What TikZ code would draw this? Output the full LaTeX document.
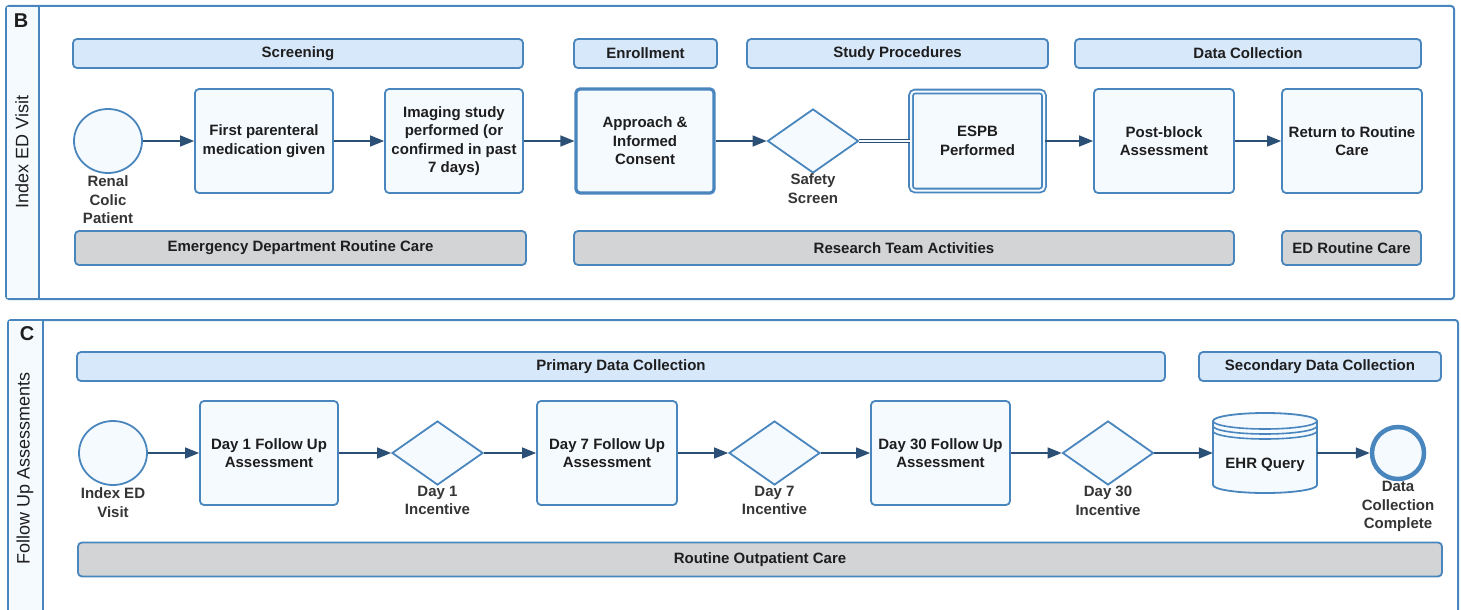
\documentclass[tikz,border=0pt]{standalone}
\usepackage{fontspec}
\setmainfont{Liberation Sans}
\usetikzlibrary{arrows.meta,positioning,shapes.geometric}

\definecolor{laneblue}{HTML}{4A86BE}
\definecolor{flowblue}{HTML}{2C4F75}
\definecolor{boxfill}{HTML}{F5FAFF}
\definecolor{headfill}{HTML}{D7E8FB}
\definecolor{barfill}{HTML}{D3D4D6}
\definecolor{ink}{HTML}{1E1E1E}

\begin{document}
\begin{tikzpicture}[x=1pt,y=-1pt,
    font=\fontsize{15}{18.5}\selectfont\bfseries,
    lane/.style={draw=laneblue,line width=2pt,rounded corners=3pt},
    head/.style={draw=laneblue,line width=1.8pt,fill=headfill,rounded corners=4pt,minimum height=29pt,inner sep=0pt,text=ink},
    bar/.style={draw=laneblue,line width=1.8pt,fill=barfill,rounded corners=4pt,minimum height=34pt,inner sep=0pt,text=ink},
    task/.style={draw=laneblue,line width=1.8pt,fill=boxfill,rounded corners=4pt,minimum height=104pt,align=center,text=ink,inner sep=1pt},
    event/.style={ellipse,draw=laneblue,line width=1.8pt,fill=boxfill,minimum width=68pt,minimum height=64pt,inner sep=0pt},
    gate/.style={diamond,draw=laneblue,line width=1.8pt,fill=boxfill,minimum width=91pt,minimum height=64pt,inner sep=0pt},
    tag/.style={align=center,inner sep=0pt,text=ink!90},
    lanetitle/.style={rotate=90,font=\fontsize{18}{20}\selectfont,text=ink},
    flow/.style={draw=flowblue,line width=1.5pt,-{Triangle[length=14pt,width=11pt]}}]
  \useasboundingbox (0,0) rectangle (1461,610);
  \clip (0,0) rectangle (1461,610);

  % panel B: index ED visit
  \draw[lane,fill=white] (6,6) rectangle (1454,299);
  \fill[boxfill] (7,7) rectangle (39,298);
  \draw[laneblue,line width=2pt] (39,6) -- (39,299);
  \node[font=\fontsize{20}{22}\selectfont\bfseries,text=ink] (labB) at (21,21) {B};
  \node[lanetitle] (laneB) at (22,152) {Index ED Visit};

  \node[head,minimum width=450pt] (scr) at (298,53.5) {Screening};
  \node[head,minimum width=143pt] (enr) at (645.5,53.5) {Enrollment};
  \node[head,minimum width=301pt] (proc) at (897.5,53.5) {Study Procedures};
  \node[head,minimum width=346pt] (dcol) at (1248,53.5) {Data Collection};

  \node[event] (patient) at (108,141) {};
  \node[tag,below=2pt of patient] (patientlbl) {Renal\\Colic\\Patient};
  \node[task,minimum width=138pt] (first) at (264,141) {First parenteral\\medication given};
  \node[task,minimum width=138pt] (imaging) at (454,141) {Imaging study\\performed (or\\confirmed in past\\7 days)};
  \node[task,minimum width=138pt,line width=3.2pt] (consent) at (645,141) {Approach \&\\Informed\\Consent};
  \node[gate] (safety) at (813,141) {};
  \node[tag,below=0pt of safety] (safetylbl) {Safety\\Screen};
  \node[task,minimum width=133pt,minimum height=99pt,line width=1.8pt,double=boxfill,double distance=2pt] (espb) at (977.5,141) {ESPB\\Performed};
  \node[task,minimum width=140pt] (post) at (1164,141) {Post-block\\Assessment};
  \node[task,minimum width=140pt] (ret) at (1352,141) {Return to Routine\\Care};

  \node[bar,minimum width=451pt] (edcare) at (300.5,248) {Emergency Department Routine Care};
  \node[bar,minimum width=660pt] (research) at (904,248) {Research Team Activities};
  \node[bar,minimum width=139pt] (edrout) at (1351.5,248) {ED Routine Care};

  \draw[flow] (patient) -- (first);
  \draw[flow] (first) -- (imaging);
  \draw[flow] (imaging) -- (consent);
  \draw[flow] (consent) -- (safety);
  \draw[flowblue,line width=1.4pt,double=boxfill,double distance=1.8pt] (safety.east) -- (espb.west);
  \draw[flow] (espb) -- (post);
  \draw[flow] (post) -- (ret);

  % panel C: follow up assessments
  \draw[lane,fill=white] (8,320) rectangle (1458,640);
  \fill[boxfill] (9,321) rectangle (43,639);
  \draw[laneblue,line width=2pt] (43,320) -- (43,640);
  \node[font=\fontsize{20}{22}\selectfont\bfseries,text=ink] (labC) at (27,334) {C};
  \node[lanetitle] (laneC) at (25,468) {Follow Up Assessments};

  \node[head,minimum width=1088pt] (primary) at (621,366.5) {Primary Data Collection};
  \node[head,minimum width=242pt] (secondary) at (1320,366.5) {Secondary Data Collection};

  \node[event] (visit) at (113,453) {};
  \node[tag,below=2pt of visit] (visitlbl) {Index ED\\Visit};
  \node[task,minimum width=138pt] (day1) at (269,453) {Day 1 Follow Up\\Assessment};
  \node[gate] (inc1) at (437.5,453) {};
  \node[tag,below=0pt of inc1] (inc1lbl) {Day 1\\Incentive};
  \node[task,minimum width=140pt] (day7) at (607,453) {Day 7 Follow Up\\Assessment};
  \node[gate] (inc7) at (774.5,453) {};
  \node[tag,below=0pt of inc7] (inc7lbl) {Day 7\\Incentive};
  \node[task,minimum width=139pt] (day30) at (940.5,453) {Day 30 Follow Up\\Assessment};
  \node[gate] (inc30) at (1108,453) {};
  \node[tag,below=0pt of inc30] (inc30lbl) {Day 30\\Incentive};

  \node[minimum width=104pt,minimum height=80pt,inner sep=0pt] (ehr) at (1265,453) {};
  \filldraw[draw=laneblue,fill=boxfill,line width=1.8pt] (1213,421) -- (1213,485)
    arc[start angle=180,end angle=360,x radius=52pt,y radius=8pt] -- (1317,421)
    arc[start angle=0,end angle=180,x radius=52pt,y radius=8pt] -- cycle;
  \foreach \lev in {421,426,431}
    \draw[laneblue,line width=1.6pt] (1213,\lev) arc[start angle=180,end angle=360,x radius=52pt,y radius=8pt];
  \node[text=ink] (ehrlbl) at ([yshift=-12pt]ehr.center) {EHR Query};

  \node[circle,draw=laneblue,line width=4.5pt,fill=boxfill,minimum size=52pt,inner sep=0pt] (done) at (1398,453) {};
  \node[tag,below=0pt of done] (donelbl) {Data\\Collection\\Complete};

  \node[bar,minimum width=1364pt] (outpat) at (760,559.5) {Routine Outpatient Care};

  \draw[flow] (visit) -- (day1);
  \draw[flow] (day1) -- (inc1);
  \draw[flow] (inc1) -- (day7);
  \draw[flow] (day7) -- (inc7);
  \draw[flow] (inc7) -- (day30);
  \draw[flow] (day30) -- (inc30);
  \draw[flow] (inc30) -- (ehr);
  \draw[flow] (ehr) -- (done);
\end{tikzpicture}
\end{document}
